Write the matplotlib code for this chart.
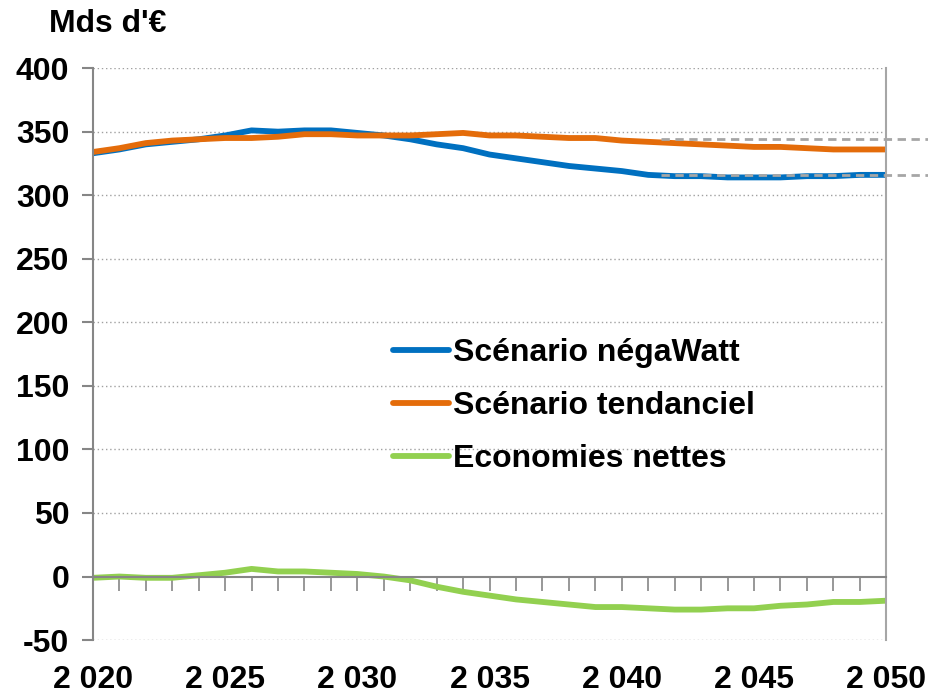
import numpy as np
import matplotlib.pyplot as plt

# %% Data
years = np.arange(2020, 2051)
negawatt = [333, 336, 340, 342, 344, 347, 351, 350, 351, 351, 349, 347, 344, 340, 337, 332,
            329, 326, 323, 321, 319, 316, 315, 315, 314, 314, 314, 315, 315, 316, 316]
tendanciel = [334, 337, 341, 343, 344, 345, 345, 346, 348, 348, 347, 347, 347, 348, 349, 347,
              347, 346, 345, 345, 343, 342, 341, 340, 339, 338, 338, 337, 336, 336, 336]
economies = [-1, 0, -1, -1, 1, 3, 6, 4, 4, 3, 2, 0, -3, -8, -12, -15,
             -18, -20, -22, -24, -24, -25, -26, -26, -25, -25, -23, -22, -20, -20, -19]
ref_levels = [344, 316]
ref_span = [2041.5, 2052]
labels = ["Scénario négaWatt", "Scénario tendanciel", "Economies nettes"]
colors = ["#0070C0", "#E46C0A", "#92D050"]

# %% Plotting
plt.rcParams['font.family'] = ['Liberation Sans', 'DejaVu Sans']
plt.rcParams['font.weight'] = 'bold'
plt.rcParams['axes.unicode_minus'] = False
fig = plt.figure(figsize=(9.29, 6.95), dpi=100)
ax = fig.add_axes([0.100, 0.079, 0.854, 0.823])

for yv in np.arange(-50, 401, 50):
    if yv != 0:
        ax.axhline(yv, color="#A0A0A0", lw=1.0, ls=(0, (1, 2)), zorder=0)

for series, lab, c in zip([negawatt, tendanciel, economies], labels, colors):
    ax.plot(years, series, color=c, lw=4.2, label=lab, solid_capstyle="round")

for lv in ref_levels:
    ax.plot(ref_span, [lv, lv], color="#A6A6A6", lw=2, ls=(0, (3, 2)), clip_on=False, zorder=5)

ax.set_xlim(2020, 2050)
ax.set_ylim(-50, 400)
ax.set_yticks(np.arange(-50, 401, 50))
ax.set_xticks(np.arange(2020, 2051, 5))
ax.set_xticks(years, minor=True)
ax.set_xticklabels(["2 %03d" % (y - 2000) for y in range(2020, 2051, 5)])

ax.spines['top'].set_visible(False)
ax.spines['bottom'].set_position(('data', 0))
for s in ['left', 'bottom', 'right']:
    ax.spines[s].set_color("#868686")
    ax.spines[s].set_linewidth(1.5)
ax.spines['right'].set_color("#A6A6A6")

ax.tick_params(axis='y', length=8, width=1.5, color="#868686", labelsize=23, pad=9)
ax.tick_params(axis='x', which='both', length=10, width=1.2, color="#868686", direction='out')
ax.tick_params(axis='x', which='major', labelsize=23, pad=54)

ax.text(-0.055, 1.063, "Mds d'€", transform=ax.transAxes, fontsize=23, fontweight='bold',
        ha='left', va='baseline')

ax.legend(loc='upper left', bbox_to_anchor=(0.378, 0.528), frameon=False, fontsize=23,
          handlelength=1.75, handletextpad=0.15, labelspacing=0.72,
          borderpad=0, borderaxespad=0)

plt.savefig("out.png", dpi=100)
